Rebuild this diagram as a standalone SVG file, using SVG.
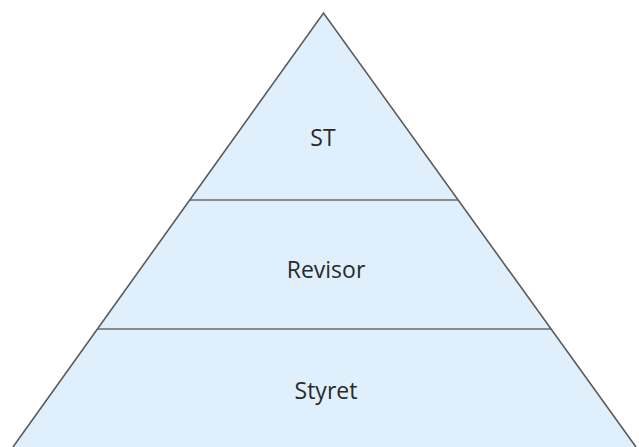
<svg xmlns="http://www.w3.org/2000/svg" width="639" height="447" viewBox="0 0 639 447">
<style>
.lvl{fill:#dff0fc;stroke:none}
.div{stroke:#6b6b6b;stroke-width:1.5;fill:none}
.edge{stroke:#5a5a5a;stroke-width:1.6;fill:none}
.lbl{font-family:"Open Sans","Liberation Sans",sans-serif;font-size:23px;fill:#2a2a2a;text-anchor:middle}
</style>
<g id="pyramid-fill"><polygon class="lvl" points="323.5,13 13,447 636,447"/></g>
<g id="connectors">
<line class="div" x1="190" y1="200" x2="458" y2="200"/>
<line class="div" x1="98" y1="329" x2="551" y2="329"/>
<polyline class="edge" points="13,447 323.5,13 636,447"/>
</g>
<g id="node-st"><text class="lbl" x="323" y="146">ST</text></g>
<g id="node-revisor"><text class="lbl" x="326" y="278">Revisor</text></g>
<g id="node-styret"><text class="lbl" x="326" y="399">Styret</text></g>
</svg>
